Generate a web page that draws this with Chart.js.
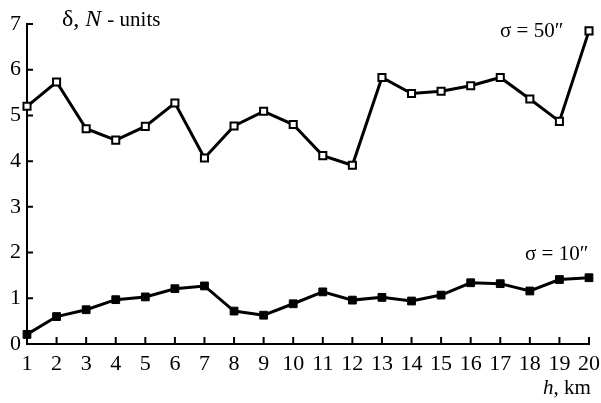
<!DOCTYPE html>
<html>
<head>
<meta charset="utf-8">
<script src="https://cdn.jsdelivr.net/npm/chart.js@4.4.0/dist/chart.umd.min.js"></script>
<style>
  html, body { margin: 0; padding: 0; background: #fff; }
  #wrap { position: relative; width: 601px; height: 403px; }
  .lbl { position: absolute; font-family: "Liberation Serif", "DejaVu Serif", serif; color: #000; white-space: nowrap; line-height: 1; }
</style>
</head>
<body>
<div id="wrap">
  <canvas id="deltaChart"></canvas>
  <div class="lbl" style="left:62px; top:6px; font-size:24px;">δ, <i>N</i> <span style="font-size:21px">- units</span></div>
  <div class="lbl" style="left:500px; top:20px; font-size:21px;">σ = 50″</div>
  <div class="lbl" style="left:525px; top:243px; font-size:21px;">σ = 10″</div>
  <div class="lbl" style="left:543px; top:377px; font-size:21px;"><i>h</i>, km</div>
</div>
<script>
// heights, km
const heights = ['1','2','3','4','5','6','7','8','9','10','11','12','13','14','15','16','17','18','19','20'];
// sigma = 50''
const sigma50 = [5.20, 5.73, 4.71, 4.46, 4.76, 5.27, 4.07, 4.77, 5.09, 4.80, 4.12, 3.91, 5.83, 5.48, 5.53, 5.65, 5.83, 5.36, 4.87, 6.85];
// sigma = 10''
const sigma10 = [0.21, 0.60, 0.75, 0.97, 1.03, 1.21, 1.27, 0.72, 0.63, 0.88, 1.14, 0.96, 1.02, 0.94, 1.07, 1.34, 1.32, 1.16, 1.41, 1.45];
const yTicks = [0, 1, 2, 3, 4, 5, 6, 7];

// draw short inward tick marks on both axes
const inwardTicks = {
    id: 'inwardTicks',
    afterDraw(chart) {
        const c = chart.ctx;
        const xs = chart.scales.x, ys = chart.scales.y;
        c.save();
        c.strokeStyle = '#000';
        c.lineWidth = 2;
        c.beginPath();
        heights.forEach((h, i) => {
            const px = xs.getPixelForValue(i);
            c.moveTo(px, ys.bottom);
            c.lineTo(px, ys.bottom - 7);
        });
        yTicks.forEach(v => {
            const py = ys.getPixelForValue(v);
            c.moveTo(xs.left, py);
            c.lineTo(xs.left + 6, py);
        });
        c.stroke();
        c.restore();
    }
};

const ctx = document.getElementById('deltaChart').getContext('2d');
const deltaChart = new Chart(ctx, {
    type: 'line',
    data: {
        labels: heights,
        datasets: [{
            label: 'σ = 50″',
            data: sigma50,
            borderColor: '#000',
            borderWidth: 3,
            pointStyle: 'rect',
            pointRadius: 5,
            pointBorderWidth: 2,
            pointBackgroundColor: '#fff',
            pointBorderColor: '#000',
            clip: false
        }, {
            label: 'σ = 10″',
            data: sigma10,
            borderColor: '#000',
            borderWidth: 3,
            pointStyle: 'rect',
            pointRadius: 5.5,
            pointBorderWidth: 1,
            pointBackgroundColor: '#000',
            pointBorderColor: '#000',
            clip: false
        }]
    },
    options: {
        responsive: true,
        maintainAspectRatio: false,
        animation: false,
        layout: { padding: { top: 24, right: 12, left: 0, bottom: 0 } },
        plugins: { legend: { display: false }, tooltip: { enabled: false } },
        scales: {
            x: {
                offset: false,
                grid: { display: false, drawTicks: false },
                border: { color: '#000', width: 2 },
                ticks: {
                    color: '#000',
                    padding: 7,
                    maxRotation: 0,
                    autoSkip: false,
                    font: { family: 'Liberation Serif', size: 22 }
                },
                afterFit(scale) {
                    scale.height = 59;
                    scale.paddingLeft = 0;
                    scale.paddingRight = 0;
                }
            },
            y: {
                min: 0,
                max: 7,
                grid: { display: false, drawTicks: false },
                border: { color: '#000', width: 2 },
                ticks: {
                    stepSize: 1,
                    color: '#000',
                    padding: 6,
                    font: { family: 'Liberation Serif', size: 22 }
                },
                afterFit(scale) {
                    scale.width = 27;
                    scale.paddingTop = 0;
                    scale.paddingBottom = 0;
                }
            }
        }
    },
    plugins: [inwardTicks]
});
</script>
</body>
</html>
